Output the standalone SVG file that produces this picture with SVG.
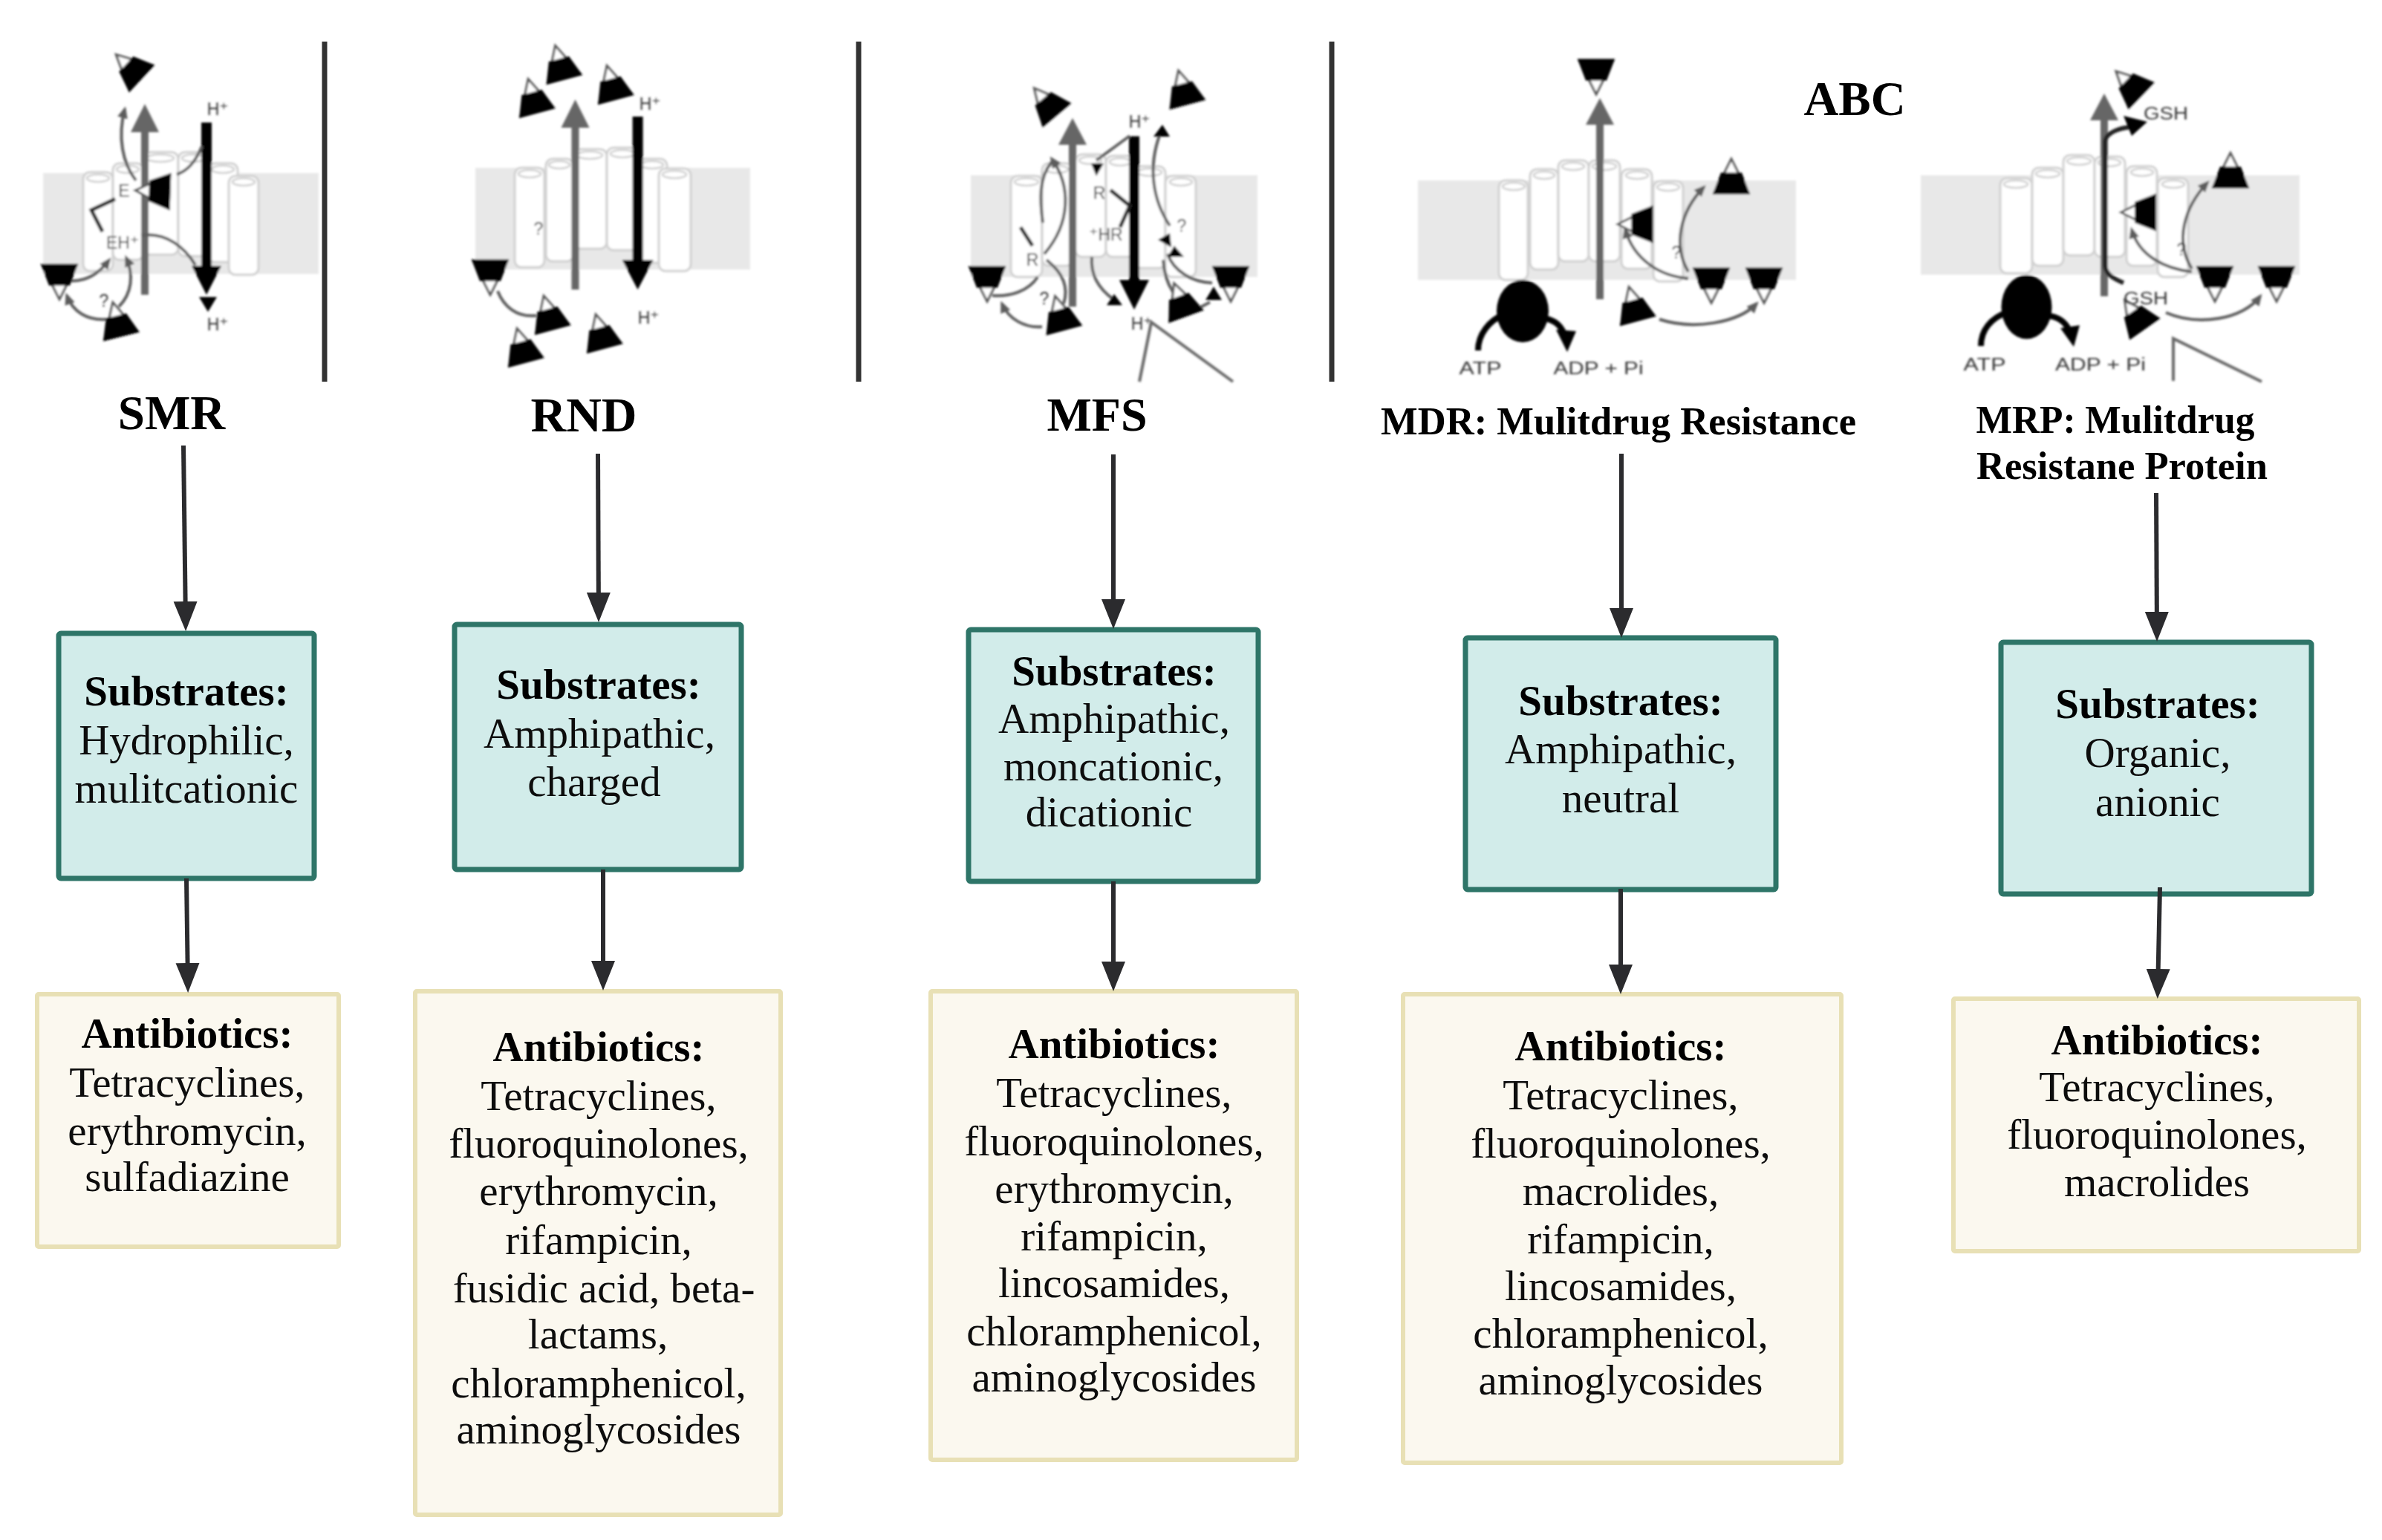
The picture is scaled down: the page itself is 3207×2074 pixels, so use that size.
<svg xmlns="http://www.w3.org/2000/svg" xmlns:xlink="http://www.w3.org/1999/xlink" width="3207" height="2074" viewBox="0 0 3207 2074">
<style>
text{font-family:"Liberation Serif","DejaVu Serif",serif;text-anchor:middle;fill:#111}
.n text{font-size:57px}
.n .h{font-weight:bold;fill:#050505}
.title{font-weight:bold;fill:#000}
.teal{fill:#d2ecea;stroke:#2f7568;stroke-width:7}
.cream{fill:#fbf8ef;stroke:#e8e0b5;stroke-width:6}
.conn line{stroke:#2b2b2e;stroke-width:6;marker-end:url(#a)}
.sep{stroke:#333;stroke-width:7}
.band{fill:#e8e8e8}
.cyl rect{fill:#fff;stroke:#cfcfcf;stroke-width:3}
.cyl ellipse{fill:#fff;stroke:#cfcfcf;stroke-width:2.5}
.g{fill:#666}
.k{fill:#000}
.th{fill:none;stroke:#5c5c5c;stroke-width:4;marker-end:url(#h)}
.tn{fill:none;stroke:#5c5c5c;stroke-width:4}
.dk{fill:none;stroke:#222;stroke-width:5}
.bk{fill:none;stroke:#000;stroke-width:8}
.ln{fill:none;stroke:#666;stroke-width:4}
.ic text{font-family:"Liberation Sans","DejaVu Sans",sans-serif;font-size:23px;fill:#333}
.icon{filter:url(#bl)}
.soft{filter:url(#sf)}
</style>
<defs>
<marker id="a" markerUnits="userSpaceOnUse" markerWidth="42" markerHeight="34" refX="32" refY="17" orient="auto"><path d="M0 1L40 17L0 33Z" fill="#2b2b2e"/></marker>
<marker id="h" markerUnits="userSpaceOnUse" markerWidth="18" markerHeight="16" refX="12" refY="8" orient="auto"><path d="M0 1L16 8L0 15Z" fill="#5c5c5c"/></marker>
<filter id="bl" x="-5%" y="-5%" width="110%" height="110%"><feGaussianBlur stdDeviation="1.6"/></filter>
<filter id="sf" x="-2%" y="-2%" width="104%" height="104%"><feGaussianBlur stdDeviation="0.7"/></filter>
<g id="t"><polygon points="0,-46 -23,0 23,0" fill="#fff" stroke="#555" stroke-width="3"/><polygon points="-23,0 23,0 13,-26 -13,-26" fill="#000" stroke="#000" stroke-width="3"/></g>
</defs>
<rect width="3207" height="2074" fill="#fff"/>

<g id="separators" class="soft">
<line class="sep" x1="437" y1="56" x2="437" y2="514"/>
<line class="sep" x1="1156" y1="56" x2="1156" y2="514"/>
<line class="sep" x1="1793" y1="56" x2="1793" y2="514"/>
</g>

<g id="icon-smr" class="icon ic">
<rect class="band" x="58" y="233" width="371" height="136"/>
<g class="cyl">
<rect x="112" y="232" width="40" height="133" rx="9"/><ellipse cx="132" cy="240" rx="15" ry="5"/>
<rect x="152" y="220" width="41" height="130" rx="9"/><ellipse cx="172" cy="228" rx="15" ry="5"/>
<rect x="193" y="205" width="47" height="138" rx="9"/><ellipse cx="216" cy="213" rx="18" ry="5"/>
<rect x="240" y="205" width="40" height="140" rx="9"/><ellipse cx="260" cy="213" rx="15" ry="5"/>
<rect x="280" y="220" width="40" height="133" rx="9"/><ellipse cx="300" cy="228" rx="15" ry="5"/>
<rect x="308" y="237" width="40" height="133" rx="9"/><ellipse cx="328" cy="245" rx="15" ry="5"/>
</g>
<polygon class="g" points="190,397 190,178 176,178 195,140 214,178 200,178 200,397"/>
<polygon class="k" points="271,165 285,165 285,358 298,358 278,397 258,358 271,358"/>
<polygon class="k" points="268,400 292,400 280,420"/>
<path class="th" d="M183 243C165 220 158 185 168 147"/>
<path class="tn" d="M272 197C262 220 252 230 238 235"/>
<path class="dk" d="M155 268L123 283L138 312"/>
<path class="tn" d="M190 317C225 312 250 335 263 357"/>
<path class="th" d="M93 378C115 380 132 370 147 350"/>
<path class="th" d="M160 413C178 395 180 370 170 347"/>
<path class="th" d="M143 430C118 432 98 420 90 398"/>
<use href="#t" xlink:href="#t" transform="translate(190,105) rotate(-47)"/>
<use href="#t" xlink:href="#t" transform="translate(228,258) rotate(-88)"/>
<use href="#t" xlink:href="#t" transform="translate(80,357) rotate(180)"/>
<use href="#t" xlink:href="#t" transform="translate(163,452) rotate(-14)"/>
<text x="167" y="265">E</text><text x="165" y="335">EH⁺</text><text x="293" y="155">H⁺</text><text x="293" y="445">H⁺</text><text x="140" y="413">?</text>
</g>

<g id="icon-rnd" class="icon ic">
<rect class="band" x="640" y="226" width="370" height="137"/>
<g class="cyl">
<rect x="693" y="226" width="40" height="134" rx="9"/><ellipse cx="713" cy="234" rx="15" ry="5"/>
<rect x="735" y="214" width="37" height="138" rx="9"/><ellipse cx="753" cy="222" rx="14" ry="5"/>
<rect x="772" y="201" width="45" height="134" rx="9"/><ellipse cx="794" cy="209" rx="17" ry="5"/>
<rect x="817" y="199" width="42" height="138" rx="9"/><ellipse cx="838" cy="207" rx="16" ry="5"/>
<rect x="859" y="214" width="39" height="140" rx="9"/><ellipse cx="878" cy="222" rx="15" ry="5"/>
<rect x="887" y="227" width="43" height="138" rx="9"/><ellipse cx="908" cy="235" rx="16" ry="5"/>
</g>
<polygon class="g" points="769.5,390 769.5,172 755.5,172 774.5,134 793.5,172 779.5,172 779.5,390"/>
<polygon class="k" points="851.6,157 865.6,157 865.6,350 879.6,350 858.6,390 837.6,350 851.6,350"/>
<path class="tn" d="M670 392C678 412 695 428 722 425"/>
<use href="#t" xlink:href="#t" transform="translate(759.5,106) rotate(-15)"/>
<use href="#t" xlink:href="#t" transform="translate(829,133) rotate(-15)"/>
<use href="#t" xlink:href="#t" transform="translate(723,151) rotate(-15)"/>
<use href="#t" xlink:href="#t" transform="translate(660,351) rotate(180)"/>
<use href="#t" xlink:href="#t" transform="translate(744,443) rotate(-15)"/>
<use href="#t" xlink:href="#t" transform="translate(814,468) rotate(-15)"/>
<use href="#t" xlink:href="#t" transform="translate(708,487) rotate(-15)"/>
<text x="875" y="148">H⁺</text><text x="873" y="436">H⁺</text><text x="725" y="316">?</text>
</g>

<g id="icon-mfs" class="icon ic">
<rect class="band" x="1307" y="236" width="386" height="137"/>
<g class="cyl">
<rect x="1361" y="237" width="42" height="136" rx="9"/><ellipse cx="1382" cy="245" rx="16" ry="5"/>
<rect x="1403" y="220" width="41" height="138" rx="9"/><ellipse cx="1423" cy="228" rx="15" ry="5"/>
<rect x="1448" y="208" width="41" height="138" rx="9"/><ellipse cx="1468" cy="216" rx="15" ry="5"/>
<rect x="1489" y="210" width="38" height="136" rx="9"/><ellipse cx="1508" cy="218" rx="14" ry="5"/>
<rect x="1527" y="224" width="42" height="137" rx="9"/><ellipse cx="1548" cy="232" rx="16" ry="5"/>
<rect x="1569" y="237" width="41" height="136" rx="9"/><ellipse cx="1590" cy="245" rx="15" ry="5"/>
</g>
<polygon class="g" points="1439,413 1439,195 1425,195 1444,159 1463,195 1449,195 1449,413"/>
<polygon class="k" points="1520,183.5 1534,183.5 1534,377 1547,377 1527,417 1507,377 1520,377"/>
<path class="tn" d="M1521 183L1476 216"/>
<path class="dk" d="M1495 256L1521 277L1508 306"/>
<path class="dk" d="M1374 306L1390 331"/>
<path class="th" d="M1406 342C1442 300 1442 250 1416 214"/>
<path class="tn" d="M1416 218C1398 240 1400 270 1404 300"/>
<path class="tn" d="M1397 373C1385 392 1360 400 1336 398"/>
<path class="tn" d="M1409 350C1428 365 1440 385 1432 409"/>
<path class="th" d="M1403 440C1380 442 1358 430 1349 409"/>
<path class="tn" d="M1470 346C1468 370 1478 388 1499 403"/>
<path class="tn" d="M1575 304C1552 270 1545 225 1562 180"/>
<path class="tn" d="M1632 381C1605 380 1580 365 1572 342"/>
<path class="tn" d="M1610 417C1580 405 1568 380 1566 350"/>
<path class="tn" d="M1629 407L1610 417"/>
<g class="k">
<polygon points="1469,220 1486,220 1476,237"/><polygon points="1565,168 1553,184 1575,184"/><polygon points="1500,396 1490,411 1511,411"/>
<polygon points="1559,323 1575,314 1577,333"/><polygon points="1581,331 1572,346 1594,346"/><polygon points="1634,386 1623,404 1645,404"/>
</g>
<use href="#t" xlink:href="#t" transform="translate(1422,154) rotate(-40)"/>
<use href="#t" xlink:href="#t" transform="translate(1598.5,139.5) rotate(-15)"/>
<use href="#t" xlink:href="#t" transform="translate(1329,360) rotate(180)"/>
<use href="#t" xlink:href="#t" transform="translate(1657,360) rotate(180)"/>
<use href="#t" xlink:href="#t" transform="translate(1432.5,443.5) rotate(-15)"/>
<use href="#t" xlink:href="#t" transform="translate(1596.5,425) rotate(-20)"/>
<path class="ln" d="M1534 514L1550 434L1660 514"/>
<text x="1534" y="172">H⁺</text><text x="1537" y="444">H⁺</text><text x="1480" y="268">R</text><text x="1489" y="324">⁺HR</text><text x="1390" y="358">R</text><text x="1591" y="312">?</text><text x="1406" y="410">?</text>
</g>

<g id="icon-mdr" class="icon ic">
<rect class="band" x="1909" y="243" width="509" height="134"/>
<g class="cyl">
<rect x="2018" y="243" width="39" height="134" rx="9"/><ellipse cx="2038" cy="251" rx="15" ry="5"/>
<rect x="2060" y="228" width="38" height="135" rx="9"/><ellipse cx="2079" cy="236" rx="14" ry="5"/>
<rect x="2098" y="216" width="41" height="136" rx="9"/><ellipse cx="2118" cy="224" rx="15" ry="5"/>
<rect x="2139" y="216" width="42" height="136" rx="9"/><ellipse cx="2160" cy="224" rx="16" ry="5"/>
<rect x="2183" y="228" width="41" height="134" rx="9"/><ellipse cx="2204" cy="236" rx="15" ry="5"/>
<rect x="2226" y="244" width="40" height="135" rx="9"/><ellipse cx="2246" cy="252" rx="15" ry="5"/>
</g>
<polygon class="g" points="2149,403 2149,168 2135,168 2154,132 2173,168 2159,168 2159,403"/>
<ellipse class="k" cx="2050" cy="419" rx="35" ry="42"/>
<path class="bk" d="M1990 472C1990 450 2005 432 2025 423"/>
<path class="bk" d="M2075 428C2090 430 2100 435 2106 450"/>
<polygon class="k" points="2095,444 2122,446 2110,474"/>
<path class="th" d="M2273 375C2235 372 2200 350 2188 309"/>
<path class="th" d="M2273 366C2252 330 2262 285 2294 252"/>
<path class="th" d="M2234 430C2280 445 2340 435 2365 409"/>
<use href="#t" xlink:href="#t" transform="translate(2149,81) rotate(180)"/>
<use href="#t" xlink:href="#t" transform="translate(2224,302) rotate(-90)"/>
<use href="#t" xlink:href="#t" transform="translate(2331,260)"/>
<use href="#t" xlink:href="#t" transform="translate(2304,362) rotate(180)"/>
<use href="#t" xlink:href="#t" transform="translate(2375,362) rotate(180)"/>
<use href="#t" xlink:href="#t" transform="translate(2205,431) rotate(-15)"/>
<text x="1993" y="504" textLength="57" lengthAdjust="spacingAndGlyphs">ATP</text>
<text x="2152" y="504" textLength="121" lengthAdjust="spacingAndGlyphs">ADP + Pi</text>
<text x="2257" y="348">?</text>
</g>

<g id="icon-mrp" class="icon ic">
<rect class="band" x="2586" y="236" width="510" height="134"/>
<g class="cyl">
<rect x="2693" y="240" width="43" height="128" rx="9"/><ellipse cx="2714" cy="248" rx="16" ry="5"/>
<rect x="2736" y="226" width="42" height="132" rx="9"/><ellipse cx="2757" cy="234" rx="16" ry="5"/>
<rect x="2778" y="209" width="42" height="135" rx="9"/><ellipse cx="2799" cy="217" rx="16" ry="5"/>
<rect x="2820" y="211" width="41" height="135" rx="9"/><ellipse cx="2840" cy="219" rx="15" ry="5"/>
<rect x="2863" y="224" width="41" height="134" rx="9"/><ellipse cx="2884" cy="232" rx="15" ry="5"/>
<rect x="2905" y="240" width="41" height="133" rx="9"/><ellipse cx="2926" cy="248" rx="15" ry="5"/>
</g>
<polygon class="g" points="2828,399 2828,162 2814,162 2833,126 2852,162 2838,162 2838,399"/>
<path fill="none" stroke="#222" stroke-width="6" d="M2859 381C2845 375 2836 370 2834 358L2834 190C2836 178 2855 172 2870 171"/>
<polygon class="k" points="2859,156 2891,164 2870,183"/>
<ellipse class="k" cx="2728.5" cy="413.5" rx="34" ry="43"/>
<path class="bk" d="M2667 466C2667 445 2680 428 2704 420"/>
<path class="bk" d="M2755 425C2770 426 2780 432 2786 445"/>
<polygon class="k" points="2774,442 2800,438 2792,467"/>
<path class="th" d="M2951 366C2915 362 2880 345 2870 309"/>
<path class="th" d="M2951 362C2928 325 2940 280 2972 246"/>
<path class="th" d="M2916 421C2960 440 3020 430 3043 399"/>
<use href="#t" xlink:href="#t" transform="translate(2882,128) rotate(-46)"/>
<use href="#t" xlink:href="#t" transform="translate(2901.5,286) rotate(-90)"/>
<use href="#t" xlink:href="#t" transform="translate(3003,252)"/>
<use href="#t" xlink:href="#t" transform="translate(2982,360) rotate(180)"/>
<use href="#t" xlink:href="#t" transform="translate(3065,360) rotate(180)"/>
<use href="#t" xlink:href="#t" transform="translate(2887,442) rotate(-35)"/>
<path class="ln" d="M2926 513L2926 456L3045 514"/>
<text x="2672" y="499" textLength="57" lengthAdjust="spacingAndGlyphs">ATP</text>
<text x="2828" y="499" textLength="122" lengthAdjust="spacingAndGlyphs">ADP + Pi</text>
<text x="2916" y="161" textLength="60" lengthAdjust="spacingAndGlyphs">GSH</text>
<text x="2889" y="410" textLength="60" lengthAdjust="spacingAndGlyphs">GSH</text>
<text x="2937" y="344">?</text>
</g>

<g id="titles" class="soft">
<text class="title" x="231" y="578" font-size="65">SMR</text>
<text class="title" x="786" y="581" font-size="66">RND</text>
<text class="title" x="1477" y="580" font-size="64">MFS</text>
<text class="title" x="2497" y="155" font-size="65">ABC</text>
<text class="title" x="2179" y="585" font-size="53" textLength="640" lengthAdjust="spacingAndGlyphs">MDR: Mulitdrug Resistance</text>
<text class="title" x="2848" y="583" font-size="52" textLength="375" lengthAdjust="spacingAndGlyphs">MRP: Mulitdrug</text>
<text class="title" x="2857" y="645" font-size="52" textLength="392" lengthAdjust="spacingAndGlyphs">Resistane Protein</text>
</g>

<g id="substrates-smr" class="n soft"><rect class="teal" x="79" y="853" width="344" height="330" rx="3"/>
<text class="h" x="251" y="950">Substrates:</text><text x="251" y="1016">Hydrophilic,</text><text x="251" y="1081">mulitcationic</text></g>
<g id="substrates-rnd" class="n soft"><rect class="teal" x="612" y="841" width="386" height="330" rx="3"/>
<text class="h" x="806" y="941">Substrates:</text><text x="807" y="1007">Amphipathic,</text><text x="800" y="1072">charged</text></g>
<g id="substrates-mfs" class="n soft"><rect class="teal" x="1304" y="848" width="390" height="339" rx="3"/>
<text class="h" x="1500" y="923">Substrates:</text><text x="1500" y="987">Amphipathic,</text><text x="1499" y="1051">moncationic,</text><text x="1493" y="1113">dicationic</text></g>
<g id="substrates-mdr" class="n soft"><rect class="teal" x="1973" y="859" width="418" height="339" rx="3"/>
<text class="h" x="2182" y="963">Substrates:</text><text x="2182" y="1028">Amphipathic,</text><text x="2182" y="1094">neutral</text></g>
<g id="substrates-mrp" class="n soft"><rect class="teal" x="2694" y="865" width="418" height="339" rx="3"/>
<text class="h" x="2905" y="967">Substrates:</text><text x="2905" y="1033">Organic,</text><text x="2905" y="1099">anionic</text></g>

<g id="antibiotics-smr" class="n soft"><rect class="cream" x="50" y="1339" width="406" height="340" rx="2"/>
<text class="h" x="252" y="1411">Antibiotics:</text><text x="252" y="1477">Tetracyclines,</text><text x="252" y="1542">erythromycin,</text><text x="252" y="1604">sulfadiazine</text></g>
<g id="antibiotics-rnd" class="n soft"><rect class="cream" x="559" y="1335" width="492" height="705" rx="2"/>
<text class="h" x="806" y="1429">Antibiotics:</text><text x="806" y="1495">Tetracyclines,</text><text x="806" y="1559">fluoroquinolones,</text><text x="806" y="1623">erythromycin,</text><text x="806" y="1689">rifampicin,</text><text x="813" y="1754">fusidic acid, beta-</text><text x="805" y="1816">lactams,</text><text x="806" y="1882">chloramphenicol,</text><text x="806" y="1944">aminoglycosides</text></g>
<g id="antibiotics-mfs" class="n soft"><rect class="cream" x="1253" y="1335" width="493" height="631" rx="2"/>
<text class="h" x="1500" y="1425">Antibiotics:</text><text x="1500" y="1491">Tetracyclines,</text><text x="1500" y="1556">fluoroquinolones,</text><text x="1500" y="1620">erythromycin,</text><text x="1500" y="1684">rifampicin,</text><text x="1500" y="1747">lincosamides,</text><text x="1500" y="1812">chloramphenicol,</text><text x="1500" y="1874">aminoglycosides</text></g>
<g id="antibiotics-mdr" class="n soft"><rect class="cream" x="1889" y="1339" width="590" height="631" rx="2"/>
<text class="h" x="2182" y="1428">Antibiotics:</text><text x="2182" y="1494">Tetracyclines,</text><text x="2182" y="1559">fluoroquinolones,</text><text x="2182" y="1623">macrolides,</text><text x="2182" y="1688">rifampicin,</text><text x="2182" y="1751">lincosamides,</text><text x="2182" y="1815">chloramphenicol,</text><text x="2182" y="1878">aminoglycosides</text></g>
<g id="antibiotics-mrp" class="n soft"><rect class="cream" x="2630" y="1345" width="546" height="340" rx="2"/>
<text class="h" x="2904" y="1420">Antibiotics:</text><text x="2904" y="1483">Tetracyclines,</text><text x="2904" y="1547">fluoroquinolones,</text><text x="2904" y="1611">macrolides</text></g>

<g id="connectors" class="conn">
<line x1="247" y1="600" x2="250" y2="842"/>
<line x1="251" y1="1183" x2="253" y2="1329"/>
<line x1="805" y1="611" x2="806" y2="830"/>
<line x1="812" y1="1171" x2="812" y2="1326"/>
<line x1="1499" y1="612" x2="1499" y2="839"/>
<line x1="1499" y1="1187" x2="1499" y2="1327"/>
<line x1="2183" y1="611" x2="2183" y2="851"/>
<line x1="2182" y1="1197" x2="2182" y2="1331"/>
<line x1="2903" y1="664" x2="2904" y2="856"/>
<line x1="2908" y1="1195" x2="2905" y2="1337"/>
</g>
</svg>
